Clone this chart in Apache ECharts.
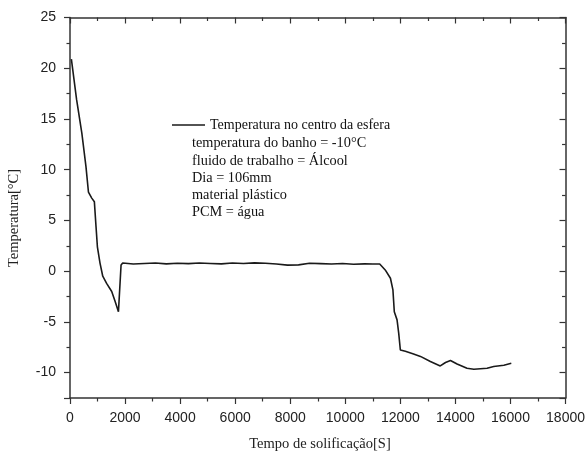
<!DOCTYPE html>
<html>
<head>
<meta charset="utf-8">
<script src="https://cdn.jsdelivr.net/npm/echarts@6/dist/echarts.min.js"></script>
<style>
  html, body { margin: 0; padding: 0; background: #fff; }
  #chart { width: 588px; height: 455px; }
</style>
</head>
<body>
<div id="chart"></div>
<script>
// tempo [s] e temperatura [°C]
const timeS = [
  50, 240, 430, 580, 670, 790, 885, 945, 995, 1090, 1190, 1330, 1515, 1640, 1760, 1795,
  1855, 1915, 2300, 2700, 3100, 3500, 3900, 4300, 4700, 5100, 5500, 5900, 6300, 6700,
  7100, 7500, 7900, 8300, 8700, 9100, 9500, 9900, 10300, 10700, 11000, 11250,
  11450, 11640, 11730, 11780, 11880, 11940, 12000, 12180, 12480, 12730, 13090, 13450,
  13640, 13820, 14060, 14420, 14670, 15150, 15390, 15760, 16030
];
const tempC = [
  20.9, 16.9, 13.6, 10.3, 7.8, 7.2, 6.85, 4.4, 2.4, 0.8, -0.5, -1.2, -2.0, -3.0, -4.0, -4.1,
  0.6, 0.8, 0.7, 0.75, 0.8, 0.72, 0.78, 0.74, 0.8, 0.76, 0.72, 0.8, 0.75, 0.82,
  0.78, 0.7, 0.6, 0.62, 0.78, 0.74, 0.7, 0.75, 0.68, 0.72, 0.7, 0.7,
  0.12, -0.7, -1.85, -4.0, -4.8, -6.1, -7.77, -7.9, -8.16, -8.4, -8.9, -9.34,
  -9.0, -8.8, -9.15, -9.57, -9.67, -9.57, -9.4, -9.27, -9.08
];

const seriesName = 'Temperatura no centro da esfera';
const notes = [
  'temperatura do banho = -10°C',
  'fluido de trabalho = Álcool',
  'Dia = 106mm',
  'material plástico',
  'PCM = água'
];

const axisColor = '#333';
const labelFont = { fontFamily: 'Liberation Sans', fontSize: 14, color: '#222' };
const serifFont = 'Liberation Serif';

const chart = echarts.init(document.getElementById('chart'));

const tickStyle = { color: axisColor, width: 1.2 };
const xBase = {
  type: 'value',
  min: 0,
  max: 18000,
  interval: 2000,
  splitLine: { show: false },
  axisLine: { onZero: false, lineStyle: { color: axisColor, width: 1.5 } },
  minorTick: { show: true, splitNumber: 2, length: 3.5, lineStyle: tickStyle }
};
const yBase = {
  type: 'value',
  min: -12.5,
  max: 25,
  splitNumber: 7,
  splitLine: { show: false },
  axisLine: { show: true, onZero: false, lineStyle: { color: axisColor, width: 1.5 } },
  minorTick: { show: true, splitNumber: 2, length: 3.5, lineStyle: tickStyle }
};

chart.setOption({
  backgroundColor: '#fff',
  animation: false,
  grid: { left: 70, right: 21, top: 17.5, bottom: 57 },
  legend: {
    left: 172,
    top: 118,
    padding: 0,
    itemWidth: 33,
    itemHeight: 1.6,
    itemGap: 5,
    data: [{ name: seriesName, icon: 'rect' }],
    textStyle: { fontFamily: serifFont, fontSize: 14, color: '#111' }
  },
  xAxis: [
    Object.assign({}, xBase, {
      position: 'bottom',
      axisTick: { length: 6, lineStyle: tickStyle },
      axisLabel: Object.assign({ margin: 13, formatter: v => String(v) }, labelFont)
    }),
    Object.assign({}, xBase, {
      position: 'top',
      axisTick: { inside: true, length: 6, lineStyle: tickStyle },
      axisLabel: { show: false }
    })
  ],
  yAxis: [
    Object.assign({}, yBase, {
      position: 'left',
      axisTick: { length: 6, lineStyle: tickStyle },
      axisLabel: Object.assign({
        margin: 14,
        formatter: v => (v % 5 === 0 ? String(v) : '')
      }, labelFont)
    }),
    Object.assign({}, yBase, {
      position: 'right',
      axisTick: { inside: true, length: 6, lineStyle: tickStyle },
      axisLabel: { show: false }
    })
  ],
  graphic: [
    {
      type: 'text',
      x: 320,
      y: 444,
      style: {
        text: 'Tempo de solificação[S]',
        font: '14.5px "Liberation Serif"',
        fill: '#222',
        align: 'center',
        verticalAlign: 'middle'
      }
    },
    {
      type: 'text',
      x: 14,
      y: 218,
      rotation: Math.PI / 2,
      style: {
        text: 'Temperatura[°C]',
        font: '14.5px "Liberation Serif"',
        fill: '#222',
        align: 'center',
        verticalAlign: 'middle'
      }
    }
  ].concat(notes.map((t, i) => ({
    type: 'text',
    x: 192,
    y: 143.7 + i * 17.25,
    style: {
      text: t,
      font: '14.3px "Liberation Serif"',
      fill: '#111',
      verticalAlign: 'middle'
    }
  }))),
  series: [
    {
      name: seriesName,
      type: 'line',
      symbol: 'none',
      xAxisIndex: 0,
      yAxisIndex: 0,
      lineStyle: { color: '#1a1a1a', width: 1.6 },
      itemStyle: { color: '#1a1a1a' },
      data: timeS.map((t, i) => [t, tempC[i]])
    }
  ]
});
</script>
</body>
</html>
